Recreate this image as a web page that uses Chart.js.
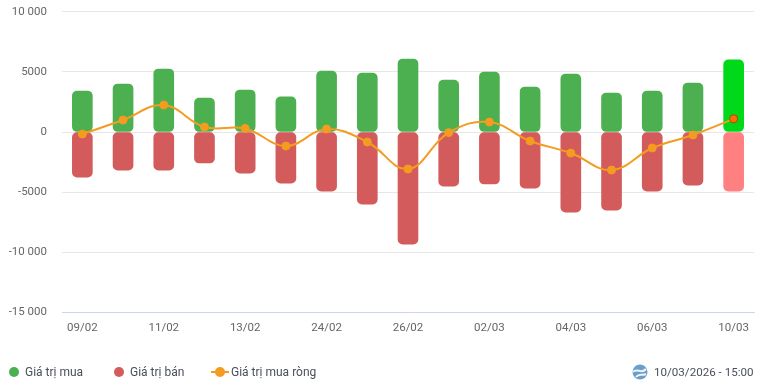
<!DOCTYPE html>
<html>
<head>
<meta charset="utf-8">
<script src="https://cdn.jsdelivr.net/npm/chart.js@4/dist/chart.umd.min.js"></script>
<style>
    html, body { margin: 0; padding: 0; background: #fff; overflow: hidden; }
    #wrap { position: relative; width: 764px; height: 387px; font-family: Roboto, sans-serif; }
    #chart { position: absolute; left: 0; top: 0; }
    .legend { position: absolute; top: 365px; font-size: 12px; line-height: 15px; color: #4a4f5c; white-space: nowrap; }
    .dot { position: absolute; top: 367px; width: 10px; height: 10px; border-radius: 50%; }
</style>
</head>
<body>
<div id="wrap">
    <canvas id="chart" width="764" height="387"></canvas>
    <span class="dot" style="left:9px;background:#4caf50"></span>
    <span class="legend" style="left:25px">Giá trị mua</span>
    <span class="dot" style="left:114px;background:#d45b5b"></span>
    <span class="legend" style="left:130px">Giá trị bán</span>
    <svg style="position:absolute;left:211px;top:365px" width="18" height="14">
        <line x1="0" y1="7" x2="18" y2="7" stroke="#f39c1f" stroke-width="2"></line>
        <circle cx="9" cy="7" r="5" fill="#f39c1f"></circle>
    </svg>
    <span class="legend" style="left:231px">Giá trị mua ròng</span>
    <svg style="position:absolute;left:632px;top:364px" width="17" height="17">
        <circle cx="8" cy="8" r="7.5" fill="#6a9fcb"></circle>
        <path d="M1 8 C5 3 9 11 14 5" stroke="#eef2f6" stroke-width="2" fill="none"></path>
        <path d="M4 13 C7 9 10 12 14 10" stroke="#eef2f6" stroke-width="2" fill="none"></path>
    </svg>
    <span class="legend" style="left:654px;font-size:11.6px">10/03/2026 - 15:00</span>
</div>
<script>
const categories = ['09/02', '10/02', '11/02', '12/02', '13/02', '23/02', '24/02', '25/02', '26/02',
    '27/02', '02/03', '03/03', '04/03', '05/03', '06/03', '09/03', '10/03'];
const buyValues = [3400, 4000, 5250, 2830, 3500, 2920, 5080, 4900, 6080, 4330, 5000, 3750, 4830, 3250, 3400, 4080, 6000];
const sellValues = [-3750, -3170, -3170, -2580, -3420, -4250, -4920, -6000, -9330, -4500, -4330, -4670, -6670, -6500, -4920, -4420, -4920];
const netValues = [-170, 1000, 2250, 420, 300, -1170, 250, -830, -3080, -50, 830, -750, -1750, -3170, -1330, -250, 1100];

const lastIndex = categories.length - 1;
const buyColors = categories.map((c, i) => i == lastIndex ? '#00d91a' : '#4caf50');
const sellColors = categories.map((c, i) => i == lastIndex ? '#ff8080' : '#d45b5b');
const pointColors = categories.map((c, i) => i == lastIndex ? '#ff6f00' : '#f39c1f');
const pointBorders = categories.map((c, i) => i == lastIndex ? '#a84a10' : '#f39c1f');

function formatTick(value) {
    // only the five-digit values get a space in the reference
    if (Math.abs(value) < 10000) return String(value);
    return String(value).replace(/(\d{3})$/, ' $1');
}

new Chart(document.getElementById('chart'), {
    type: 'bar',
    data: {
        labels: categories,
        datasets: [
            {
                type: 'line',
                label: 'Giá trị mua ròng',
                data: netValues,
                borderColor: '#f39c1f',
                borderWidth: 2,
                tension: 0.4,
                pointRadius: 4,
                pointBackgroundColor: pointColors,
                pointBorderColor: pointBorders,
                pointBorderWidth: 1,
                order: 0
            },
            {
                label: 'Giá trị mua',
                data: buyValues,
                backgroundColor: buyColors,
                borderRadius: 5,
                borderSkipped: false,
                barThickness: 20,
                stack: 'value',
                order: 1
            },
            {
                label: 'Giá trị bán',
                data: sellValues,
                backgroundColor: sellColors,
                borderRadius: 5,
                borderSkipped: false,
                barThickness: 20,
                stack: 'value',
                order: 1
            }
        ]
    },
    options: {
        responsive: false,
        animation: false,
        layout: { padding: { top: 0, right: 10, bottom: 43, left: 0 } },
        plugins: {
            legend: { display: false },
            tooltip: { enabled: false }
        },
        scales: {
            x: {
                stacked: true,
                grid: { display: false, drawTicks: false },
                border: { color: '#ccd6eb' },
                ticks: {
                    autoSkip: false,
                    maxRotation: 0,
                    padding: 9,
                    color: '#666666',
                    font: { family: 'Roboto', size: 11.5 },
                    callback: function (value, index) {
                        return index % 2 == 0 ? categories[index] : '';
                    }
                }
            },
            y: {
                stacked: true,
                min: -15000,
                max: 10000,
                afterFit: function (scale) { scale.width = 62; },
                // invisible tick marks push the labels left, tick padding would also shrink the plot height
                grid: { color: '#e6e6e6', tickLength: 10, tickColor: 'transparent' },
                border: { display: false },
                ticks: {
                    stepSize: 5000,
                    padding: 5,
                    color: '#666666',
                    font: { family: 'Roboto', size: 11.5 },
                    callback: formatTick
                }
            }
        }
    }
});
</script>
</body>
</html>
